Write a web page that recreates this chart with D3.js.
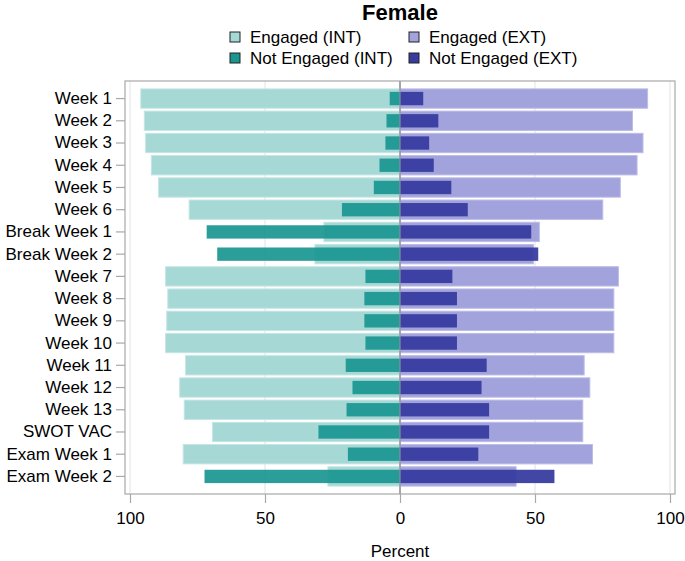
<!DOCTYPE html>
<html>
<head>
<meta charset="utf-8">
<script src="https://cdn.jsdelivr.net/npm/d3@7"></script>
<style>
  body { margin: 0; background: #fff; }
  svg { font-family: "Liberation Sans", Arial, sans-serif; }
</style>
</head>
<body>
<svg id="chart" width="685" height="561"></svg>
<script>
// weekly categories, top to bottom
const weeks = ["Week 1", "Week 2", "Week 3", "Week 4", "Week 5", "Week 6",
  "Break Week 1", "Break Week 2", "Week 7", "Week 8", "Week 9", "Week 10",
  "Week 11", "Week 12", "Week 13", "SWOT VAC", "Exam Week 1", "Exam Week 2"];

// percent values, INT drawn to the left, EXT to the right
const intEngaged    = [96.0, 94.7, 94.2, 92.1, 89.4, 78.1, 28.2, 31.5, 86.8, 86.0, 86.4, 86.8, 79.4, 81.6, 79.9, 69.4, 80.3, 26.7];
const intNotEngaged = [3.8, 5.0, 5.4, 7.6, 9.7, 21.5, 71.6, 67.7, 12.8, 13.2, 13.2, 12.8, 20.1, 17.6, 19.8, 30.2, 19.3, 72.4];
const extEngaged    = [91.7, 86.1, 90.0, 87.8, 81.6, 75.1, 51.6, 49.4, 80.9, 79.2, 79.2, 79.2, 68.2, 70.3, 67.7, 67.7, 71.3, 43.0];
const extNotEngaged = [8.6, 14.2, 10.8, 12.5, 19.0, 25.1, 48.6, 51.2, 19.4, 21.1, 21.1, 21.1, 32.1, 30.2, 33.0, 33.0, 29.0, 57.2];

const xTicks = [-100, -50, 0, 50, 100];

const colors = {
    intEng: "#a6d8d5",
    intNot: "#1a9691",
    extEng: "#a2a2dc",
    extNot: "#383c9f"
};

const svg = d3.select("#chart");

const frame = { left: 125, right: 675, top: 81, bottom: 494 };

const x = d3.scaleLinear().domain([-100, 100]).range([130, 670]);
const y = d3.scaleBand()
    .domain(weeks)
    .range([frame.top, frame.bottom])
    .paddingInner(0)
    .paddingOuter(0.29);

// gridlines
svg.append("g")
    .selectAll("line")
    .data(xTicks)
    .join("line")
    .attr("x1", d => x(d)).attr("x2", d => x(d))
    .attr("y1", frame.top).attr("y2", frame.bottom)
    .attr("stroke", d => d == 0 ? "#9a9a9a" : "#e2e2e2")
    .attr("stroke-width", 1);

const lightH = y.step() * 0.87;
const darkH = y.step() * 0.6;

// build rows from the arrays
const rows = weeks.map((w, i) => ({
    week: w,
    intEng: intEngaged[i], intNot: intNotEngaged[i],
    extEng: extEngaged[i], extNot: extNotEngaged[i]
}));

const bars = svg.append("g");

// engaged (wide, light) bars
bars.selectAll(".intEng")
    .data(rows)
    .join("rect")
    .attr("class", "intEng")
    .attr("x", d => x(-d.intEng))
    .attr("width", d => x(0) - x(-d.intEng))
    .attr("y", d => y(d.week) + (y.step() - lightH) / 2)
    .attr("height", lightH)
    .attr("fill", colors.intEng)
    .attr("stroke", "#c4e6e4")
    .attr("stroke-width", 1);

bars.selectAll(".extEng")
    .data(rows)
    .join("rect")
    .attr("class", "extEng")
    .attr("x", x(0))
    .attr("width", d => x(d.extEng) - x(0))
    .attr("y", d => y(d.week) + (y.step() - lightH) / 2)
    .attr("height", lightH)
    .attr("fill", colors.extEng)
    .attr("stroke", "#bcbce6")
    .attr("stroke-width", 1);

// not engaged (narrow, dark) bars on top
bars.selectAll(".intNot")
    .data(rows)
    .join("rect")
    .attr("class", "intNot")
    .attr("x", d => x(-d.intNot))
    .attr("width", d => x(0) - x(-d.intNot))
    .attr("y", d => y(d.week) + (y.step() - darkH) / 2)
    .attr("height", darkH)
    .attr("fill", colors.intNot)
    .attr("fill-opacity", 0.92);

bars.selectAll(".extNot")
    .data(rows)
    .join("rect")
    .attr("class", "extNot")
    .attr("x", x(0))
    .attr("width", d => x(d.extNot) - x(0))
    .attr("y", d => y(d.week) + (y.step() - darkH) / 2)
    .attr("height", darkH)
    .attr("fill", colors.extNot)
    .attr("fill-opacity", 0.95);

// zero line over bars
svg.append("line")
    .attr("x1", x(0)).attr("x2", x(0))
    .attr("y1", frame.top).attr("y2", frame.bottom)
    .attr("stroke", "#8c8c9c")
    .attr("stroke-width", 1.2);

// frame
svg.append("rect")
    .attr("x", frame.left).attr("y", frame.top)
    .attr("width", frame.right - frame.left)
    .attr("height", frame.bottom - frame.top)
    .attr("fill", "none")
    .attr("stroke", "#a8a8a8")
    .attr("stroke-width", 1.2);

// axes
const xAxis = svg.append("g")
    .attr("transform", `translate(0,${frame.bottom})`)
    .call(d3.axisBottom(x).tickValues(xTicks).tickFormat(d => Math.abs(d)).tickSize(9).tickPadding(9));

const yAxis = svg.append("g")
    .attr("transform", `translate(${frame.left},0)`)
    .call(d3.axisLeft(y).tickSize(9).tickPadding(4));

[xAxis, yAxis].forEach(a => {
    a.select(".domain").remove();
    a.selectAll(".tick line").attr("stroke", "#a8a8a8").attr("stroke-width", 1.2);
    a.selectAll("text").attr("fill", "#000").attr("font-size", 17)
        .attr("font-family", "'Liberation Sans', Arial, sans-serif");
});

svg.append("text")
    .attr("x", x(0))
    .attr("y", 557)
    .attr("text-anchor", "middle")
    .attr("font-size", 17)
    .text("Percent");

// title
svg.append("text")
    .attr("x", 400)
    .attr("y", 20)
    .attr("text-anchor", "middle")
    .attr("font-size", 22)
    .attr("font-weight", "bold")
    .text("Female");

// legend
const legendItems = [
    { label: "Engaged (INT)", color: colors.intEng, col: 0, row: 0 },
    { label: "Not Engaged (INT)", color: colors.intNot, col: 0, row: 1 },
    { label: "Engaged (EXT)", color: colors.extEng, col: 1, row: 0 },
    { label: "Not Engaged (EXT)", color: colors.extNot, col: 1, row: 1 }
];

const legend = svg.append("g")
    .selectAll("g")
    .data(legendItems)
    .join("g")
    .attr("transform", d => `translate(${230 + d.col * 179},${37 + d.row * 21})`);

legend.append("rect")
    .attr("x", 0).attr("y", -5)
    .attr("width", 10).attr("height", 10)
    .attr("fill", d => d.color)
    .attr("stroke", "#222")
    .attr("stroke-width", 1);

legend.append("text")
    .attr("x", 20)
    .attr("y", 6)
    .attr("font-size", 17)
    .text(d => d.label);
</script>
</body>
</html>
